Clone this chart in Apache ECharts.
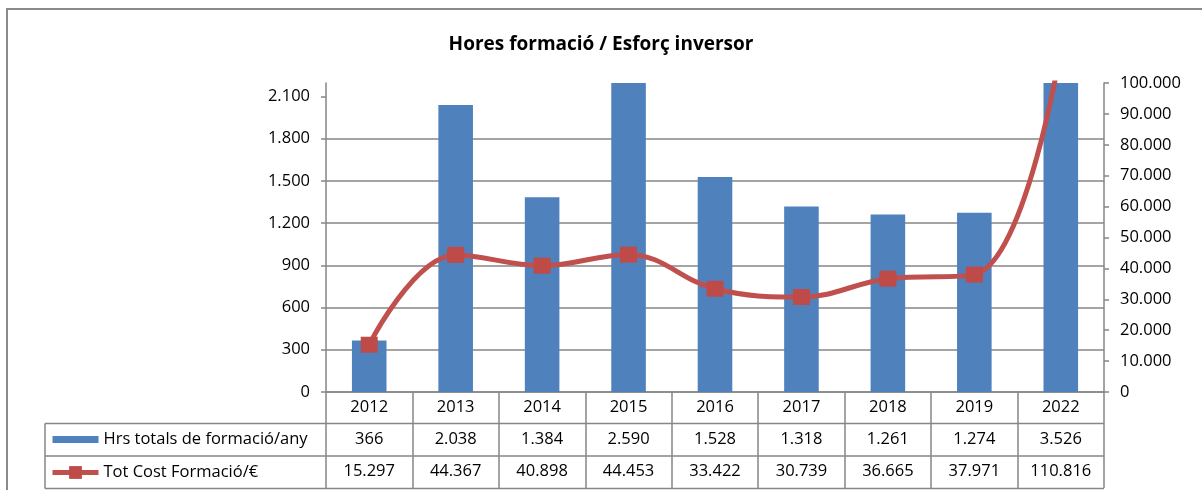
<!DOCTYPE html>
<html lang="ca">
<head>
	<meta charset="UTF-8">
	<title>Hores formació / Esforç inversor</title>
	<script src="https://cdn.jsdelivr.net/npm/echarts@6/dist/echarts.min.js"></script>
	<style>
		html,body{margin:0;padding:0;background:#fff;}
	</style>
</head>
<body>
	<div id="app" style="width:1202px;height:490px"></div>

	<script>
		// dades
		var anys=["2012","2013","2014","2015","2016","2017","2018","2019","2022"];
		var hores=[366,2038,1384,2590,1528,1318,1261,1274,3526];
		var cost=[15297,44367,40898,44453,33422,30739,36665,37971,110816];
		var nomHores="Hrs totals de formació/any";
		var nomCost="Tot Cost Formació/€";
		var ticksHores=[0,300,600,900,1200,1500,1800,2100];

		// format amb punt de milers
		function fmt(n){
			return String(n).replace(/\B(?=(\d{3})+(?!\d))/g,'.');
		}

		var font='"Open Sans"';
		var gris='#868686';
		var L=326,R=1104,T=83,B=392;
		var fs=16.5;

		var myChart=echarts.init(document.getElementById('app'));
		var option={
			animation:false,
			textStyle:{fontFamily:font},
			title:{
				text:"Hores formació / Esforç inversor",
				left:'center',
				top:30,
				textStyle:{fontFamily:font,fontSize:19,fontWeight:'bold',color:'#000'}
			},
			legend:{//files de la taula
				orient:'vertical',
				left:50,
				top:431,
				height:80,
				padding:0,
				itemWidth:46,
				itemHeight:16,
				itemGap:16,
				selectedMode:false,
				textStyle:{fontFamily:font,fontSize:fs,color:'#000'},
				data:[
					{name:nomHores,icon:'path://M0,0H46V7H0Z'},
					{name:nomCost,lineStyle:{width:5,color:'#C0504D'}}
				]
			},
			grid:{left:L,right:1202-R,top:T,bottom:490-B,containLabel:false,outerBoundsMode:'none'},
			xAxis:[
				{
					type:'category',
					data:anys,
					axisLine:{lineStyle:{color:gris,width:1.5}},
					axisTick:{show:true,length:96,lineStyle:{color:gris,width:1.5}},
					axisLabel:{margin:7,fontSize:fs,color:'#000',fontFamily:font}
				},
				{
					type:'category',
					position:'bottom',
					offset:32,
					data:hores.map(fmt),
					axisLine:{show:false},
					axisTick:{show:false},
					axisLabel:{margin:7,fontSize:fs,color:'#000',fontFamily:font}
				},
				{
					type:'category',
					position:'bottom',
					offset:64,
					data:cost.map(fmt),
					axisLine:{show:false},
					axisTick:{show:false},
					axisLabel:{margin:7,fontSize:fs,color:'#000',fontFamily:font}
				}
			],
			yAxis:[
				{
					type:'value',
					min:0,
					max:2195,
					interval:300,
					axisLine:{show:true,lineStyle:{color:gris,width:1.5}},
					axisTick:{show:true,length:5,customValues:ticksHores,lineStyle:{color:gris,width:1.5}},
					axisLabel:{margin:16,fontSize:fs,color:'#000',fontFamily:font,customValues:ticksHores,
						formatter:function(v){return fmt(v);}},
					splitLine:{show:true,showMaxLine:false,lineStyle:{color:gris,width:1.5}}
				},
				{
					type:'value',
					min:0,
					max:100000,
					interval:10000,
					axisLine:{show:true,lineStyle:{color:gris,width:1.5}},
					axisTick:{show:true,length:5,lineStyle:{color:gris,width:1.5}},
					axisLabel:{margin:16,fontSize:fs,color:'#000',fontFamily:font,
						formatter:function(v){return fmt(v);}},
					splitLine:{show:false}
				}
			],
			series:[
				{
					name:nomHores,
					type:'bar',
					data:hores,
					barWidth:'40%',
					clip:true,
					itemStyle:{color:'#4F81BD'}
				},
				{
					name:nomCost,
					type:'line',
					yAxisIndex:1,
					data:cost,
					smooth:0.4,
					clip:true,
					symbol:'rect',
					symbolSize:[17,16],
					lineStyle:{color:'#C0504D',width:5},
					itemStyle:{color:'#BE4B48'}
				}
			],
			graphic:[
				{//marc exterior
					type:'rect',
					shape:{x:7,y:9,width:1300,height:600},
					style:{fill:'none',stroke:'#8a8a8a',lineWidth:2},
					silent:true
				},
				{type:'line',shape:{x1:45,y1:423.5,x2:R,y2:423.5},style:{stroke:gris,lineWidth:1.5},silent:true},
				{type:'line',shape:{x1:45,y1:456,x2:R,y2:456},style:{stroke:gris,lineWidth:1.5},silent:true},
				{type:'line',shape:{x1:45,y1:488.5,x2:R,y2:488.5},style:{stroke:gris,lineWidth:1.5},silent:true},
				{type:'line',shape:{x1:45,y1:423.5,x2:45,y2:488.5},style:{stroke:gris,lineWidth:1.5},silent:true}
			]
		};
		myChart.setOption(option);
	</script>
</body>
</html>
